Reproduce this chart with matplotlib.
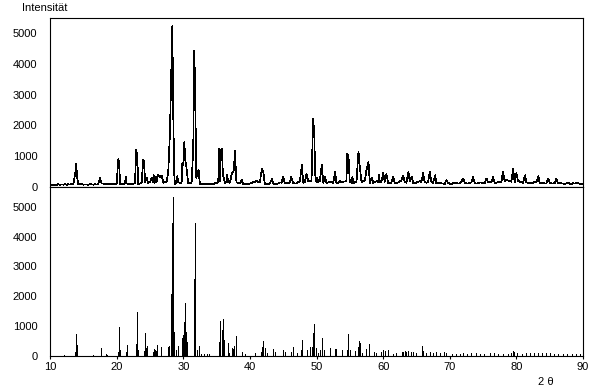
import numpy as np
import matplotlib
matplotlib.use('Agg')
from matplotlib import pyplot as plt

# --- measured pattern: background read every 0.25 deg from 10 to 90 ---
bg_step = 0.25
bg_int = [
    60, 75, 55, 80, 70, 90, 65, 85, 75, 95, 70, 90, 80, 100, 85, 110,
    120, 95, 80, 90, 75, 85, 80, 70, 90, 85, 75, 95, 80, 90, 100, 120,
    110, 100, 90, 105, 90, 100, 85, 95, 110, 100, 90, 85, 95, 110, 120, 105,
    100, 95, 110, 120, 115, 100, 110, 130, 150, 170, 140, 130, 160, 170, 150, 140,
    160, 150, 130, 120, 140, 170, 160, 150, 130, 120, 110, 100, 130, 150, 140, 120,
    150, 130, 110, 120, 140, 130, 110, 100, 95, 90, 85, 95, 90, 85, 100, 95,
    90, 105, 100, 120, 130, 160, 180, 170, 150, 140, 160, 150, 140, 170, 190, 170,
    150, 130, 120, 110, 100, 115, 105, 95, 110, 130, 160, 190, 200, 170, 150, 130,
    120, 105, 95, 90, 120, 140, 110, 100, 95, 120, 150, 140, 120, 110, 130, 120,
    140, 160, 130, 110, 120, 160, 180, 150, 140, 160, 170, 190, 210, 200, 160, 140,
    150, 170, 190, 160, 140, 130, 120, 150, 170, 150, 130, 120, 110, 130, 150, 160,
    170, 180, 200, 190, 160, 140, 130, 150, 170, 200, 180, 160, 190, 210, 170, 140,
    130, 120, 140, 160, 190, 170, 150, 180, 200, 170, 140, 130, 120, 150, 170, 140,
    130, 150, 180, 210, 190, 160, 140, 160, 180, 150, 130, 120, 140, 170, 190, 160,
    170, 150, 140, 160, 180, 150, 130, 120, 110, 130, 140, 120, 110, 100, 120, 130,
    110, 100, 120, 140, 130, 110, 120, 160, 180, 140, 120, 110, 130, 150, 130, 120,
    110, 130, 150, 140, 120, 110, 140, 160, 170, 150, 130, 120, 140, 160, 180, 170,
    200, 190, 230, 210, 190, 170, 160, 150, 170, 200, 180, 150, 140, 130, 150, 140,
    130, 120, 140, 160, 150, 130, 120, 140, 130, 120, 110, 130, 140, 120, 110, 130,
    120, 110, 130, 120, 110, 100, 120, 130, 110, 100, 120, 110, 130, 120, 110, 100,
    110,
]
# peak points of the measured pattern (2theta, counts)
meas_pk_tth = [
    13.8, 13.95, 14.05, 17.5, 20.25, 20.4, 21.4, 22.95, 23.1,
    24.0, 24.15, 24.5, 25.3, 25.6, 25.9, 26.2, 26.5, 26.8,
    27.75, 28.0, 28.2, 28.36, 28.5, 28.65, 29.1,
    29.86, 30.0, 30.16, 30.3, 30.5, 31.5, 31.66, 31.8, 31.95, 32.3,
    35.4, 35.6, 35.8, 35.95, 36.6, 37.3, 37.55, 37.8, 37.9, 38.8,
    40.8, 41.8, 42.0, 43.3, 45.0, 46.2, 47.8, 48.5,
    49.5, 49.67, 49.8, 50.1, 50.8, 51.3, 52.8, 53.5,
    54.6, 54.8, 55.4, 56.3, 56.45, 57.5, 57.8, 58.3, 59.4,
    60.0, 60.5, 61.5, 63.0, 63.8, 64.3, 66.0, 67.0, 67.8, 69.5,
    72.0, 73.5, 75.5, 76.5, 78.0, 79.5, 80.0, 81.3, 83.3, 84.8, 86.0,
]
meas_pk_int = [
    450, 750, 350, 290, 900, 830, 335, 1225, 950,
    880, 830, 300, 300, 380, 330, 400, 330, 360,
    500, 1745, 3600, 5230, 2370, 400, 350,
    770, 700, 1460, 900, 600, 1250, 4420, 3020, 300, 550,
    1250, 1150, 1250, 400, 400, 450, 500, 1170, 400, 230,
    170, 600, 500, 260, 330, 330, 715, 420,
    2230, 1690, 400, 300, 715, 330, 500, 200,
    1070, 1000, 330, 1150, 770, 550, 820, 300, 400,
    450, 420, 320, 370, 480, 330, 450, 500, 380, 230,
    280, 330, 280, 330, 500, 590, 450, 380, 350, 280, 280,
]

# --- calculated pattern: reflections (2theta, intensity) ---
calc_tth = [
    12.1, 13.75, 13.9, 14.05, 16.5, 17.6, 17.7, 18.45, 18.6, 20.25, 20.4, 20.5,
    21.4, 21.5, 22.9, 23.1, 23.2, 24.1, 24.2, 24.35, 24.5, 24.6,
    25.4, 25.6, 25.75, 25.9, 26.1, 26.6, 27.75, 27.9, 28.1, 28.3, 28.45, 28.6,
    28.9, 29.15, 29.85, 30.0, 30.1, 30.25, 30.35, 30.5, 30.6,
    31.6, 31.7, 31.8, 32.0, 32.35, 32.7, 33.1, 33.5, 33.9,
    35.4, 35.55, 35.75, 35.95, 36.1, 36.65, 36.8, 37.27, 37.5, 37.65, 37.97,
    38.77, 39.3, 40.77, 41.6, 41.8, 42.0, 42.2, 42.5, 43.4, 43.75,
    45.0, 45.25, 46.2, 46.4, 47.0, 47.7, 47.87, 48.5, 49.0, 49.25, 49.5, 49.67,
    49.85, 50.25, 50.5, 50.87, 51.15, 52.0, 52.8, 53.0, 53.8, 54.6, 54.77,
    55.1, 55.77, 56.27, 56.4, 56.6, 56.9, 57.5, 57.9, 58.6, 59.0, 59.75,
    60.0, 60.25, 60.77, 61.5, 62.0, 62.8, 63.0, 63.3, 63.5, 63.8, 64.2, 64.5,
    65.0, 65.8, 66.05, 66.5, 67.0, 67.5, 68.0, 68.6, 69.2, 69.5, 70.3, 71.0,
    71.5, 72.0, 72.6, 73.2, 74.0, 74.5, 75.2, 76.0, 76.6, 77.3, 78.0, 78.8,
    79.2, 79.5, 79.7, 80.1, 80.8, 81.4, 82.0, 82.6, 83.2, 83.8, 84.4, 85.0,
    85.6, 86.2, 87.0, 87.6, 88.3, 89.0, 89.5,
]
calc_int = [
    45, 130, 740, 370, 45, 90, 270, 65, 50, 145, 980, 200,
    145, 370, 400, 1470, 200, 155, 760, 255, 310, 335,
    145, 220, 200, 165, 370, 310, 290, 345, 2065, 4460, 5330, 815,
    200, 335, 590, 700, 1150, 1760, 815, 480, 200,
    2570, 4440, 370, 200, 335, 65, 60, 65, 55,
    470, 1170, 870, 1240, 535, 425, 90, 255, 225, 335, 670,
    145, 65, 90, 145, 290, 500, 255, 110, 225, 145,
    200, 145, 145, 290, 90, 200, 535, 200, 290, 310, 780, 1070,
    255, 110, 200, 590, 200, 255, 225, 225, 200, 200, 735,
    200, 180, 290, 515, 425, 110, 225, 400, 145, 90, 145,
    200, 165, 200, 80, 90, 145, 145, 165, 120, 180, 140, 120,
    90, 335, 165, 110, 140, 100, 145, 110, 120, 90, 60, 80,
    60, 110, 70, 90, 110, 80, 70, 110, 90, 60, 80, 70,
    100, 165, 140, 90, 70, 110, 100, 90, 110, 100, 90, 110,
    60, 70, 65, 60, 65, 55, 65,
]

# --- merge background and peak points of the measured pattern ---
bg_tth = 10. + bg_step * np.arange(len(bg_int))
pk_tth = np.array(meas_pk_tth)
keep = [np.min(np.abs(pk_tth - t)) > 0.09 for t in bg_tth]
tth_m = np.concatenate([bg_tth[keep], pk_tth])
int_m = np.concatenate([np.array(bg_int)[keep], np.array(meas_pk_int)])
order = np.argsort(tth_m)
tth_m, int_m = tth_m[order], int_m[order]

# --- drawing ---
plt.rcParams['font.family'] = ['Liberation Sans', 'DejaVu Sans']
fig = plt.figure(figsize=(5.94, 3.90), dpi=100)
ax1 = fig.add_axes([50/594, 1-187/390, 533/594, 169/390])
ax2 = fig.add_axes([50/594, 1-356/390, 533/594, 169/390])

ax1.plot(tth_m, int_m, color='k', linewidth=0.5, antialiased=False)
ax1.set_xlim(10, 90)
ax1.set_ylim(0, 5495)
ax1.set_xticks([])

ax2.vlines(calc_tth, 0, calc_int, color='k', linewidth=0.7, antialiased=False)
ax2.set_xlim(10, 90)
ax2.set_ylim(0, 5660)
ax2.set_xticks(range(10, 91, 10))

for ax in (ax1, ax2):
    ax.set_yticks(range(0, 5001, 1000))
    ax.tick_params(axis='y', length=0, pad=9, labelsize=8)
    ax.tick_params(axis='x', length=2.5, pad=1.5, labelsize=8, direction='out')
    for sp in ax.spines.values():
        sp.set_linewidth(0.8)

fig.text(22/594, 1-8/390, 'Intensität', fontsize=8, va='center', ha='left')
fig.text(538/594, 1-382/390, '2 θ', fontsize=8, va='center', ha='left')

fig.savefig('out.png', dpi=100)
